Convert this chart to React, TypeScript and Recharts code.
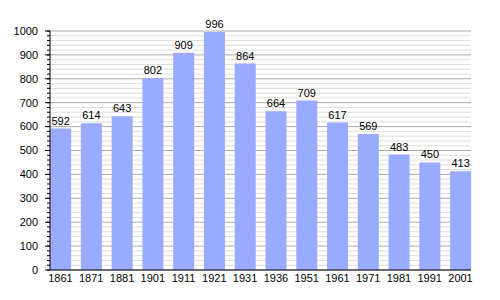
import { BarChart, Bar, XAxis, YAxis, CartesianGrid, LabelList } from 'recharts';

const years = ['1861', '1871', '1881', '1901', '1911', '1921', '1931', '1936', '1951', '1961', '1971', '1981', '1991', '2001'];
const population = [592, 614, 643, 802, 909, 996, 864, 664, 709, 617, 569, 483, 450, 413];
const yTicks = Array.from({ length: 51 }, (_, i) => i * 20);

const data = years.map((year, i) => ({ year, value: population[i] }));

const FONT = '"Liberation Sans", Arial, sans-serif';
const TICK = 3;
const MARGIN = 9;

const YTick = (props: any) => {
  const { x, y, payload } = props;
  if (payload.value % 100 !== 0) return null;
  const axisX = x + TICK + MARGIN;
  return (
    <g>
      <line x1={axisX - 5} x2={axisX} y1={y} y2={y} stroke="#000" />
      <text x={x} y={y} dy="0.35em" textAnchor="end" fontSize={11} fontFamily={FONT} fill="#000">
        {payload.value}
      </text>
    </g>
  );
};

const GridLine = (props: any) => {
  const { x1, x2, y1, y2, index } = props;
  const major = index % 5 === 0;
  return <line key={`g-${index}`} x1={x1} x2={x2} y1={y1} y2={y2} stroke={major ? '#aaaaaa' : '#dddddd'} strokeWidth={1} />;
};

export default function App() {
  return (
    <div style={{ position: 'absolute', left: 0, top: 0, background: '#fff' }}>
      <BarChart width={500} height={300} data={data} margin={{ top: 31, right: 29, bottom: 0, left: 0 }}>
        <CartesianGrid vertical={false} horizontal={GridLine} />
        <XAxis
          dataKey="year"
          tickLine={false}
          tickSize={0}
          tickMargin={4}
          height={30}
          padding={{ left: -4.9, right: -4.9 }}
          axisLine={{ stroke: '#000' }}
          tick={{ fontSize: 11, fontFamily: FONT, fill: '#000' }}
          interval={0}
        />
        <YAxis
          width={50}
          domain={[0, 1000]}
          ticks={yTicks}
          interval={0}
          tickSize={TICK}
          tickMargin={MARGIN}
          axisLine={{ stroke: '#000' }}
          tickLine={{ stroke: '#000' }}
          tick={YTick}
        />
        <Bar dataKey="value" fill="#99aaff" barSize={21} isAnimationActive={false}>
          <LabelList dataKey="value" position="top" offset={4} fontSize={11} fontFamily={FONT} fill="#000" />
        </Bar>
      </BarChart>
    </div>
  );
}
